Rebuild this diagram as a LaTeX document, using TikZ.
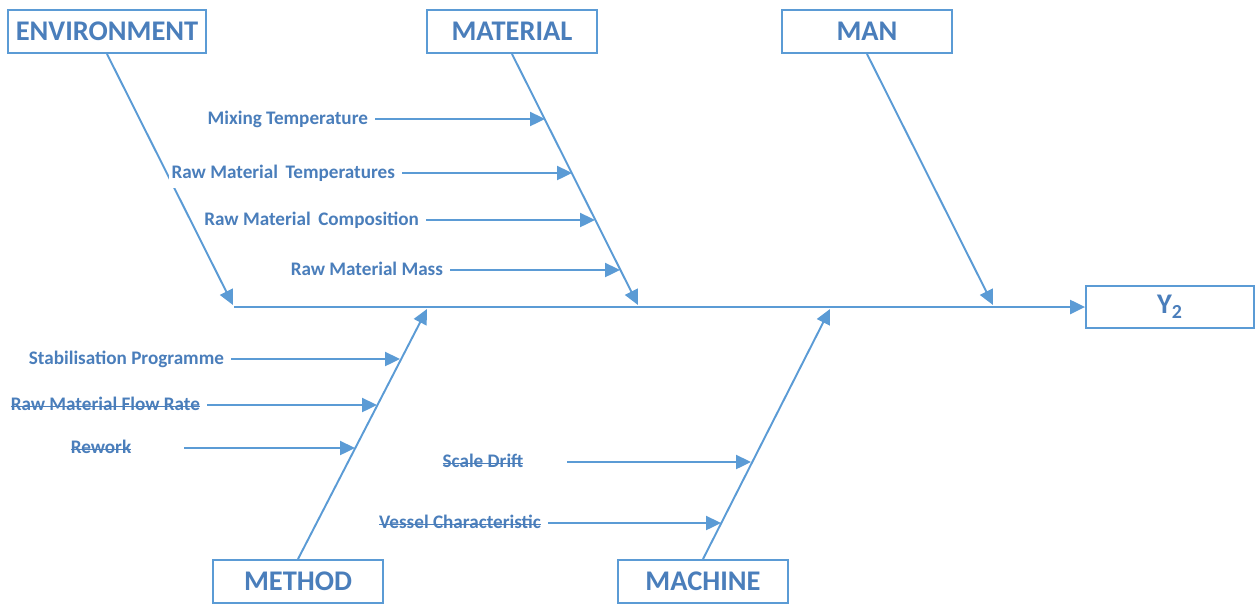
\documentclass[tikz,border=0pt]{standalone}
\usepackage{fontspec}
\setmainfont{Carlito}
\usepackage{tikz}
\usetikzlibrary{arrows.meta}
\definecolor{bonecol}{HTML}{5B9BD5}
\definecolor{textcol}{HTML}{4A7EBB}
\tikzset{cat/.style={draw=bonecol, line width=1.1pt, fill=white, minimum width=3.4cm, minimum height=0.86cm, text=textcol, font=\fontsize{16.2}{19}\selectfont\bfseries}}
\tikzset{bone/.style={draw=bonecol, line width=1.1pt, -{Triangle[length=8.5pt, width=8pt]}}}
\tikzset{cause/.style={fill=white, text=textcol, inner xsep=1.5pt, outer xsep=2.5pt, inner ysep=4pt, text height=1.7ex, text depth=0.3ex, font=\fontsize{10.9}{13}\selectfont\bfseries}}

% struck-out cause text
\newsavebox\crossbox
\newcommand{\crossed}[1]{\sbox\crossbox{#1}\rlap{\usebox\crossbox}\rule[0.42ex]{\wd\crossbox}{0.5pt}}

\begin{document}
\begin{tikzpicture}[x=0.02cm, y=-0.02cm]
	\useasboundingbox (0,0) rectangle (1256,603);

	% CATEGORY BOXES
	\node[cat, minimum width=3.96cm] (env) at (107,31.5) {ENVIRONMENT};
	\node[cat] (mat) at (512,31.5) {MATERIAL};
	\node[cat] (man) at (867,31.5) {MAN};
	\node[cat] (meth) at (298,581.5) {METHOD};
	\node[cat] (mach) at (703,581.5) {MACHINE};
	\node[cat, minimum width=3.36cm, minimum height=0.84cm] (yout) at (1170,307) {Y\textsubscript{2}};

	% Spine and bone ends
	\coordinate (spine) at (234,307);
	\coordinate (env tip) at (233,305);		\coordinate (mat tip) at (638,305);		\coordinate (man tip) at (993,305);
	\coordinate (meth tip) at (427,309);	\coordinate (mach tip) at (830,309);

	% Bones
	\draw[bone] (spine) -- (spine -| yout.west);
	\draw[bone] (env.south) -- (env tip);
	\draw[bone] (mat.south) -- (mat tip);
	\draw[bone] (man.south) -- (man tip);
	\draw[bone] (meth.north) -- (meth tip);
	\draw[bone] (mach.north) -- (mach tip);

	% MATERIAL causes
	\node[cause, anchor=east] (mix) at (375,119) {Mixing Temperature};
	\node[cause, anchor=east] (rmtemp) at (402,173) {Raw Material\, Temperatures};
	\node[cause, anchor=east] (rmcomp) at (426,220) {Raw Material\, Composition};
	\node[cause, anchor=east] (rmmass) at (450,270) {Raw Material Mass};
	\coordinate (mix tip) at (545,119);		\coordinate (rmtemp tip) at (572,173);
	\coordinate (rmcomp tip) at (595,220);	\coordinate (rmmass tip) at (620,270);

	\draw[bone] (mix) -- (mix tip);
	\draw[bone] (rmtemp) -- (rmtemp tip);
	\draw[bone] (rmcomp) -- (rmcomp tip);
	\draw[bone] (rmmass) -- (rmmass tip);

	% METHOD causes
	\node[cause, anchor=east] (stab) at (231,359) {Stabilisation Programme};
	\node[cause, anchor=east] (flow) at (207,405) {\crossed{Raw Material Flow Rate}};
	\node[cause] (rework) at (101,448) {\crossed{Rework}};
	\coordinate (rework start) at (184,448);
	\coordinate (stab tip) at (400,359);	\coordinate (flow tip) at (377,405);	\coordinate (rework tip) at (355,448);

	\draw[bone] (stab) -- (stab tip);
	\draw[bone] (flow) -- (flow tip);
	\draw[bone] (rework start) -- (rework tip);

	% MACHINE causes
	\node[cause] (drift) at (483,462) {\crossed{Scale Drift}};
	\node[cause, anchor=east] (vessel) at (548,523) {\crossed{Vessel Characteristic}};
	\coordinate (drift start) at (567,462);
	\coordinate (drift tip) at (751,462);	\coordinate (vessel tip) at (721,523);

	\draw[bone] (drift start) -- (drift tip);
	\draw[bone] (vessel) -- (vessel tip);
\end{tikzpicture}
\end{document}
